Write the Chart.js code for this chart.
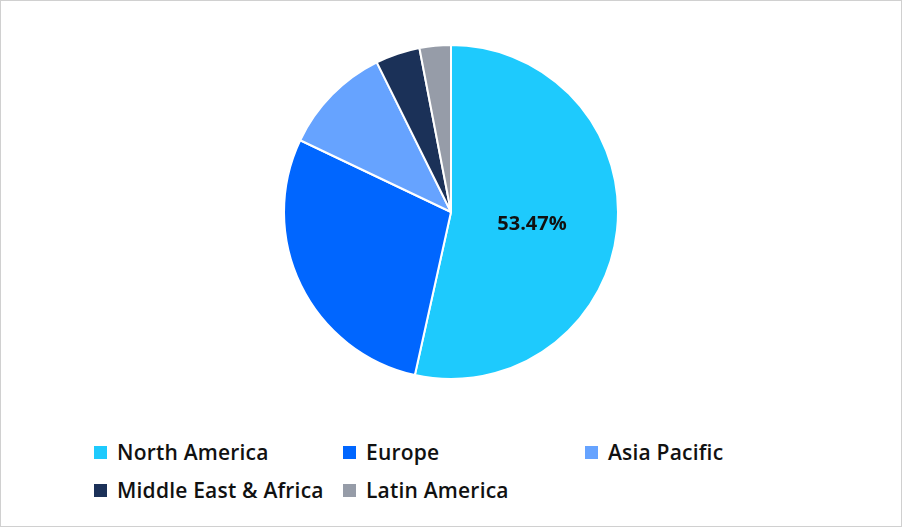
<!DOCTYPE html>
<html><head><meta charset="utf-8">
<script src="https://cdn.jsdelivr.net/npm/chart.js@4"></script>
<style>
body{margin:0;width:902px;height:527px;overflow:hidden;background:#fff;font-family:"Open Sans",sans-serif}
#frame{position:absolute;left:0;top:0;width:900px;height:525px;border:1px solid #d0d0d0}
#wrap{position:absolute;left:0;top:0;width:902px;height:426px}
.li{position:absolute;font-weight:600;font-size:21px;letter-spacing:0.2px;color:#111;line-height:24px}
.sw{display:inline-block;width:13px;height:13px;margin-right:10px;vertical-align:1px}
</style></head><body>
<div id="frame"></div>
<div id="wrap"><canvas id="c"></canvas></div>
<div id="legend"></div>
<script>
const categories=["North America","Europe","Asia Pacific","Middle East & Africa","Latin America"];
const shares=[53.47,28.6,10.6,4.3,3.03];
const colors=["#1ECAFD","#0066FF","#66A3FF","#1B3158","#969CA8"];
const legendPos=[[94,440],[343,440],[585,440],[94,478],[343,478]];
const lg=document.getElementById('legend');
categories.forEach((c,i)=>{const d=document.createElement('div');d.className='li';d.style.left=legendPos[i][0]+'px';d.style.top=legendPos[i][1]+'px';d.innerHTML='<span class="sw" style="background:'+colors[i]+'"></span>'+c.replace('&','&amp;');lg.appendChild(d);});
const labelPlugin={id:'lbl',afterDatasetsDraw(ch){const a=ch.getDatasetMeta(0).data[0];const p=a.getCenterPoint();const x=ch.ctx;x.save();x.font='bold 20px "Open Sans"';x.fillStyle='#111';x.textAlign='center';x.textBaseline='middle';x.fillText(shares[0].toFixed(2)+'%',p.x-2,p.y+3);x.restore();}};
new Chart(document.getElementById('c'),{type:'pie',data:{labels:categories,datasets:[{data:shares,backgroundColor:colors,borderColor:'#fff',borderWidth:2}]},
options:{responsive:true,maintainAspectRatio:false,animation:false,layout:{padding:{top:44,bottom:46}},plugins:{legend:{display:false},tooltip:{enabled:false}}},plugins:[labelPlugin]});
</script></body></html>
